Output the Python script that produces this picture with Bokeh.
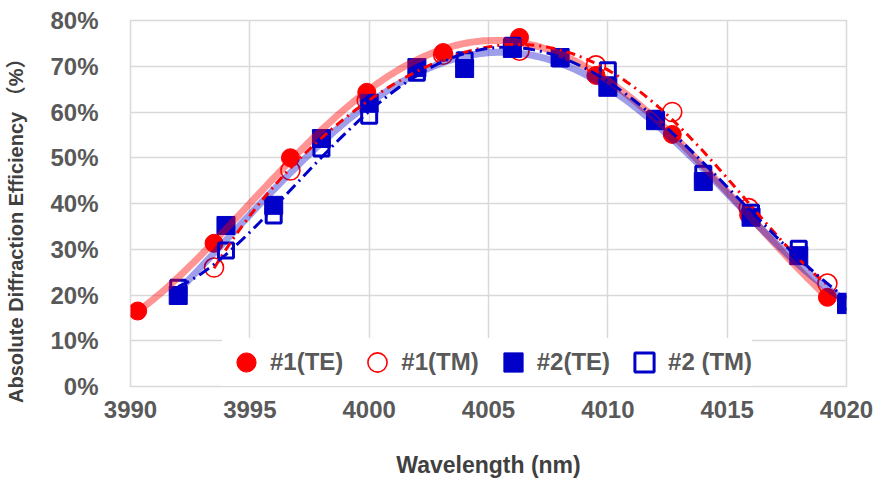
import numpy as np
from bokeh.plotting import figure
from bokeh.models import Legend, LegendItem, PrintfTickFormatter, FixedTicker, Range1d
from bokeh.embed import file_html
from bokeh.resources import INLINE

# ---- data ----
wl_1 = [3990.3, 3993.5, 3996.7, 3999.9, 4003.1, 4006.3, 4009.5, 4012.7, 4015.9, 4019.2]
te_1 = [16.5, 31.3, 50.0, 64.3, 73.0, 76.3, 68.0, 55.1, 37.5, 19.5]
wl_1tm = [3993.5, 3996.7, 3999.9, 4003.1, 4006.3, 4009.5, 4012.7, 4015.9, 4019.2]
tm_1 = [26.0, 47.2, 62.5, 72.5, 73.4, 70.2, 60.0, 39.0, 22.5]
wl_2 = [3992, 3994, 3996, 3998, 4000, 4002, 4004, 4006, 4008, 4010, 4012, 4014, 4016, 4018, 4020]
te_2 = [19.9, 35.2, 39.6, 54.2, 61.9, 69.7, 69.5, 73.9, 71.9, 65.4, 58.1, 44.8, 37.0, 28.6, 17.9]
tm_2 = [21.6, 29.7, 37.4, 52.0, 59.2, 68.6, 71.3, 74.5, 71.7, 69.1, 58.5, 46.5, 38.0, 30.1, 18.5]

x_ticks = [3990, 3995, 4000, 4005, 4010, 4015, 4020]
y_ticks = [0, 10, 20, 30, 40, 50, 60, 70, 80]

RED = "#FF0000"
BLUE = "#0000C8"
FONT = "Liberation Sans"
GRAY = "#595959"


def trend(xs, ys, deg=5, n=200):
    xs = np.asarray(xs, float)
    ys = np.asarray(ys, float)
    c = xs.mean()
    coef = np.polyfit(xs - c, ys, deg)
    xx = np.linspace(xs.min(), xs.max(), n)
    return xx, np.polyval(coef, xx - c)


p = figure(width=875, height=484, output_backend="svg", toolbar_location=None,
           x_range=Range1d(3990, 4020), y_range=Range1d(0, 80),
           min_border_left=130, min_border_right=29, min_border_top=20, min_border_bottom=98)

# markers
r1 = p.scatter(wl_1, te_1, marker="circle", size=18, fill_color=RED, line_color=RED)
r2 = p.scatter(wl_1tm, tm_1, marker="circle", size=19, fill_color=None, line_color=RED, line_width=1.6)
r3 = p.scatter(wl_2, te_2, marker="square", size=18, fill_color=BLUE, line_color=BLUE)
r4 = p.scatter(wl_2, tm_2, marker="square", size=15, fill_color=None, line_color=BLUE, line_width=3)

# trend lines
x, y = trend(wl_1, te_1)
p.line(x, y, line_color=RED, line_alpha=0.42, line_width=7)
x, y = trend(wl_2, te_2)
p.line(x, y, line_color=BLUE, line_alpha=0.38, line_width=7)
x, y = trend(wl_1tm, tm_1)
p.line(x, y, line_color=RED, line_width=3, line_dash="9 5 2 5")
x, y = trend(wl_2, tm_2)
p.line(x, y, line_color=BLUE, line_width=3, line_dash="12 5 2 5")

# axes / grid
p.xaxis.ticker = FixedTicker(ticks=x_ticks)
p.yaxis.ticker = FixedTicker(ticks=y_ticks)
p.yaxis.formatter = PrintfTickFormatter(format="%d%%")
for ax in (p.xaxis, p.yaxis):
    ax.axis_line_color = None
    ax.major_tick_line_color = None
    ax.minor_tick_line_color = None
    ax.major_label_text_font = FONT
    ax.major_label_text_font_style = "bold"
    ax.major_label_text_font_size = "24px"
    ax.major_label_text_color = GRAY
    ax.axis_label_text_font_style = "bold"
    ax.axis_label_text_color = "#404040"
    ax.axis_label_text_font = FONT + ", Noto Sans CJK SC"
p.yaxis.major_label_standoff = 26
p.xaxis.major_label_standoff = 8
p.xaxis.axis_label = "Wavelength (nm)"
p.xaxis.axis_label_text_font_size = "23px"
p.xaxis.axis_label_standoff = 31
p.yaxis.axis_label = "Absolute Diffraction Efficiency （%）" + "\u00a0" * 8
p.yaxis.axis_label_text_font_size = "20px"
p.yaxis.axis_label_standoff = 20

p.xgrid.grid_line_color = "#D9D9D9"
p.ygrid.grid_line_color = "#D9D9D9"
p.xgrid.grid_line_width = 1.5
p.ygrid.grid_line_width = 1.5
p.outline_line_color = "#D9D9D9"
p.outline_line_width = 1.5
p.background_fill_color = "white"
p.border_fill_color = "white"

legend = Legend(items=[
    LegendItem(label="#1(TE)", renderers=[r1]),
    LegendItem(label="#1(TM)", renderers=[r2]),
    LegendItem(label="#2(TE)", renderers=[r3]),
    LegendItem(label="#2 (TM)", renderers=[r4]),
], orientation="horizontal", location=(92, 0))
legend.glyph_width = 48
legend.glyph_height = 48
legend.label_standoff = -6
legend.spacing = 10
legend.padding = 0
legend.margin = 0
legend.border_line_color = None
legend.background_fill_color = "white"
legend.background_fill_alpha = 1.0
legend.label_text_font = FONT
legend.label_text_font_style = "bold"
legend.label_text_font_size = "24px"
legend.label_text_color = GRAY
p.add_layout(legend, "center")

open("out.html", "w").write(file_html(p, INLINE))
